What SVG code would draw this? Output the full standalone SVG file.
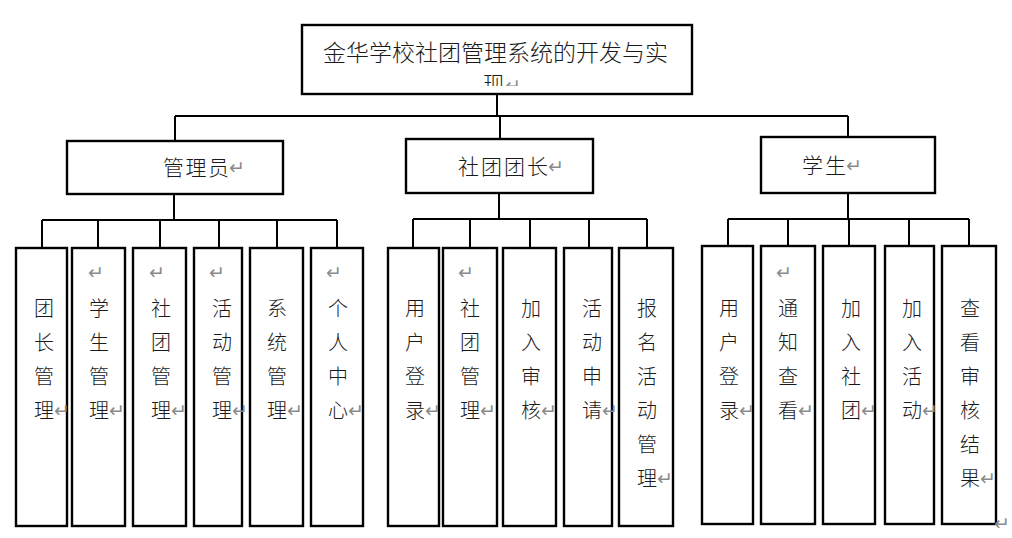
<svg xmlns="http://www.w3.org/2000/svg" width="1012" height="538" viewBox="0 0 1012 538">
<style>
.bx{fill:#fff;stroke:#000;stroke-width:2.4}
.cn{stroke:#000;stroke-width:2;fill:none}
.t{font-family:"Noto Sans CJK SC","Noto Sans CJK JP",sans-serif;fill:#1a1a1a;font-weight:300}
.lf{font-size:20px;text-anchor:middle}
.rt{font-family:"DejaVu Sans","Noto Sans",sans-serif;fill:#8a8a8a;font-size:19px}
</style>
<defs>
<clipPath id="topclip"><rect x="302" y="25" width="390" height="61"/></clipPath>
</defs>
<rect width="1012" height="538" fill="#fff"/>
<g id="connectors">
<path class="cn" d="M497 94V116M175 116H848M175 116V141M500 116V139M848 116V137"/>
<path class="cn" d="M174 194V220M42 220H337M42 220V248M98 220V248M160 220V248M219 220V248M277 220V248M337 220V248"/>
<path class="cn" d="M499 193V219M413 219H647M413 219V248M470 219V248M530 219V248M589 219V248M647 219V248"/>
<path class="cn" d="M848 193V219M728 219H969M728 219V246M788 219V246M849 219V246M909 219V246M969 219V246"/>
</g>
<g id="root">
<rect class="bx" x="302" y="25" width="390" height="69"/>
<text class="t" x="323" y="61" font-size="23" textLength="345" lengthAdjust="spacing">金华学校社团管理系统的开发与实</text>
<g clip-path="url(#topclip)">
<text class="t" x="483" y="92" font-size="22">现</text>
<text class="rt" x="505" y="92">↵</text>
</g>
</g>
<g id="admin">
<rect class="bx" x="67" y="141" width="216" height="53"/>
<text class="t" x="163" y="175" font-size="21" textLength="66" lengthAdjust="spacing">管理员</text>
<text class="rt" x="229" y="174">↵</text>
</g>
<g id="leader">
<rect class="bx" x="406" y="139" width="187" height="54"/>
<text class="t" x="458" y="174" font-size="21" textLength="90" lengthAdjust="spacing">社团团长</text>
<text class="rt" x="548" y="173">↵</text>
</g>
<g id="student">
<rect class="bx" x="761" y="137" width="174" height="56"/>
<text class="t" x="802" y="173" font-size="21" textLength="44" lengthAdjust="spacing">学生</text>
<text class="rt" x="846" y="172">↵</text>
</g>
<g id="a1"><rect class="bx" x="16" y="248" width="51" height="278"/>
<text class="t lf"><tspan x="44" y="316">团</tspan><tspan x="44" y="350">长</tspan><tspan x="44" y="384">管</tspan><tspan x="44" y="418">理</tspan></text>
<text class="rt" x="54" y="417">↵</text></g>
<g id="a2"><rect class="bx" x="72" y="248" width="53" height="278"/>
<text class="rt" x="88" y="279">↵</text>
<text class="t lf"><tspan x="99" y="316">学</tspan><tspan x="99" y="350">生</tspan><tspan x="99" y="384">管</tspan><tspan x="99" y="418">理</tspan></text>
<text class="rt" x="109" y="417">↵</text></g>
<g id="a3"><rect class="bx" x="133" y="248" width="53" height="278"/>
<text class="rt" x="149" y="279">↵</text>
<text class="t lf"><tspan x="161" y="316">社</tspan><tspan x="161" y="350">团</tspan><tspan x="161" y="384">管</tspan><tspan x="161" y="418">理</tspan></text>
<text class="rt" x="171" y="417">↵</text></g>
<g id="a4"><rect class="bx" x="194" y="248" width="48" height="278"/>
<text class="rt" x="209" y="279">↵</text>
<text class="t lf"><tspan x="222" y="316">活</tspan><tspan x="222" y="350">动</tspan><tspan x="222" y="384">管</tspan><tspan x="222" y="418">理</tspan></text>
<text class="rt" x="232" y="417">↵</text></g>
<g id="a5"><rect class="bx" x="250" y="248" width="53" height="278"/>
<text class="t lf"><tspan x="277" y="316">系</tspan><tspan x="277" y="350">统</tspan><tspan x="277" y="384">管</tspan><tspan x="277" y="418">理</tspan></text>
<text class="rt" x="287" y="417">↵</text></g>
<g id="a6"><rect class="bx" x="311" y="248" width="52" height="278"/>
<text class="rt" x="326" y="279">↵</text>
<text class="t lf"><tspan x="338" y="316">个</tspan><tspan x="338" y="350">人</tspan><tspan x="338" y="384">中</tspan><tspan x="338" y="418">心</tspan></text>
<text class="rt" x="348" y="417">↵</text></g>
<g id="l1"><rect class="bx" x="388" y="248" width="51" height="278"/>
<text class="t lf"><tspan x="415" y="316">用</tspan><tspan x="415" y="350">户</tspan><tspan x="415" y="384">登</tspan><tspan x="415" y="418">录</tspan></text>
<text class="rt" x="425" y="417">↵</text></g>
<g id="l2"><rect class="bx" x="443" y="248" width="54" height="278"/>
<text class="rt" x="458" y="279">↵</text>
<text class="t lf"><tspan x="470" y="316">社</tspan><tspan x="470" y="350">团</tspan><tspan x="470" y="384">管</tspan><tspan x="470" y="418">理</tspan></text>
<text class="rt" x="480" y="417">↵</text></g>
<g id="l3"><rect class="bx" x="503" y="248" width="53" height="278"/>
<text class="t lf"><tspan x="531" y="316">加</tspan><tspan x="531" y="350">入</tspan><tspan x="531" y="384">审</tspan><tspan x="531" y="418">核</tspan></text>
<text class="rt" x="541" y="417">↵</text></g>
<g id="l4"><rect class="bx" x="564" y="248" width="48" height="278"/>
<text class="t lf"><tspan x="592" y="316">活</tspan><tspan x="592" y="350">动</tspan><tspan x="592" y="384">申</tspan><tspan x="592" y="418">请</tspan></text>
<text class="rt" x="602" y="417">↵</text></g>
<g id="l5"><rect class="bx" x="619" y="248" width="54" height="278"/>
<text class="t lf"><tspan x="647" y="316">报</tspan><tspan x="647" y="350">名</tspan><tspan x="647" y="384">活</tspan><tspan x="647" y="418">动</tspan><tspan x="647" y="452">管</tspan><tspan x="647" y="486">理</tspan></text>
<text class="rt" x="657" y="485">↵</text></g>
<g id="s1"><rect class="bx" x="702" y="246" width="51" height="278"/>
<text class="t lf"><tspan x="729" y="316">用</tspan><tspan x="729" y="350">户</tspan><tspan x="729" y="384">登</tspan><tspan x="729" y="418">录</tspan></text>
<text class="rt" x="739" y="417">↵</text></g>
<g id="s2"><rect class="bx" x="761" y="246" width="54" height="278"/>
<text class="rt" x="776" y="279">↵</text>
<text class="t lf"><tspan x="788" y="316">通</tspan><tspan x="788" y="350">知</tspan><tspan x="788" y="384">查</tspan><tspan x="788" y="418">看</tspan></text>
<text class="rt" x="798" y="417">↵</text></g>
<g id="s3"><rect class="bx" x="823" y="246" width="52" height="278"/>
<text class="t lf"><tspan x="851" y="316">加</tspan><tspan x="851" y="350">入</tspan><tspan x="851" y="384">社</tspan><tspan x="851" y="418">团</tspan></text>
<text class="rt" x="861" y="417">↵</text></g>
<g id="s4"><rect class="bx" x="885" y="246" width="49" height="278"/>
<text class="t lf"><tspan x="912" y="316">加</tspan><tspan x="912" y="350">入</tspan><tspan x="912" y="384">活</tspan><tspan x="912" y="418">动</tspan></text>
<text class="rt" x="922" y="417">↵</text></g>
<g id="s5"><rect class="bx" x="942" y="246" width="54" height="278"/>
<text class="t lf"><tspan x="970" y="316">查</tspan><tspan x="970" y="350">看</tspan><tspan x="970" y="384">审</tspan><tspan x="970" y="418">核</tspan><tspan x="970" y="452">结</tspan><tspan x="970" y="486">果</tspan></text>
<text class="rt" x="980" y="485">↵</text></g>
<text class="rt" x="994" y="530" font-size="10">↵</text>
</svg>
